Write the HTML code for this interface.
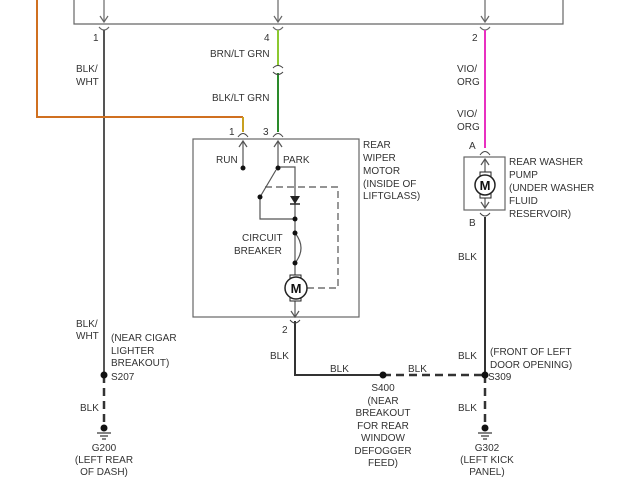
<!DOCTYPE html>
<html><head><style>body{margin:0;background:#fff}svg{display:block}text{font-family:"Liberation Sans",Arial,sans-serif;font-size:10px;fill:#333}</style></head><body>
<svg width="640" height="480" viewBox="0 0 640 480" xmlns="http://www.w3.org/2000/svg">
<g fill="none" stroke="#666" stroke-width="1.2">
<polyline points="74,0 74,24 563,24 563,0"/>
<line x1="104" y1="0" x2="104" y2="22"/><polyline points="100,16 104,22 108,16"/>
<line x1="278" y1="0" x2="278" y2="22"/><polyline points="274,16 278,22 282,16"/>
<line x1="485" y1="0" x2="485" y2="22"/><polyline points="481,16 485,22 489,16"/>
<path d="M99,27 Q104,33 109,27"/><path d="M273,27 Q278,33 283,27"/><path d="M480,27 Q485,33 490,27"/>
<rect x="193" y="139" width="166" height="178"/>
<rect x="464" y="157" width="41" height="53"/>
</g>
<line x1="104" y1="30" x2="104" y2="375" stroke="#555" stroke-width="2"/>
<line x1="104" y1="375" x2="104" y2="425" stroke="#333" stroke-width="2.5" stroke-dasharray="8,5"/>
<polyline points="37,0 37,117 243,117" fill="none" stroke="#d07020" stroke-width="2"/>
<line x1="243" y1="117" x2="243" y2="132" stroke="#c8a020" stroke-width="2"/>
<line x1="278" y1="30" x2="278" y2="66" stroke="#8cc830" stroke-width="2"/>
<line x1="278" y1="73" x2="278" y2="132" stroke="#2a8a2a" stroke-width="2"/>
<path d="M273,68 Q278,63 283,68 M273,72 Q278,77 283,72" fill="none" stroke="#444" stroke-width="1"/>
<line x1="485" y1="30" x2="485" y2="148" stroke="#e830c0" stroke-width="2"/>
<line x1="485" y1="217" x2="485" y2="375" stroke="#333" stroke-width="2"/>
<line x1="485" y1="375" x2="485" y2="425" stroke="#333" stroke-width="2.5" stroke-dasharray="8,5"/>
<polyline points="295,321 295,375 383,375" fill="none" stroke="#333" stroke-width="2"/>
<line x1="383" y1="375" x2="485" y2="375" stroke="#333" stroke-width="2.5" stroke-dasharray="8,5"/>
<g fill="none" stroke="#444" stroke-width="1">
<path d="M238,137 Q243,130 248,137"/><path d="M273,137 Q278,130 283,137"/>
<path d="M290,320 Q295,326 300,320"/>
<path d="M480,155 Q485,148 490,155"/><path d="M480,213 Q485,219 490,213"/>
</g>
<g fill="none" stroke="#555" stroke-width="1.2">
<line x1="243" y1="141" x2="243" y2="168"/><polyline points="239,147 243,141 247,147"/>
<line x1="278" y1="141" x2="278" y2="167"/><polyline points="274,147 278,141 282,147"/>
<polyline points="278,167 295,167 295,288"/>
<line x1="260" y1="197" x2="276" y2="170"/>
<polyline points="260,197 260,219 295,219"/>
<path d="M295,233 Q307,248 295,263"/>
<line x1="295" y1="299" x2="295" y2="317"/><polyline points="291,311 295,317 299,311"/>
<line x1="485" y1="159" x2="485" y2="208"/><polyline points="481,165 485,159 489,165"/><polyline points="481,202 485,208 489,202"/>
</g>
<polyline points="265,187 338,187 338,288 307,288" fill="none" stroke="#555" stroke-width="1.2" stroke-dasharray="7,4"/>
<polygon points="290,196 300,196 295,204" fill="#222"/><line x1="290" y1="204" x2="300" y2="204" stroke="#222" stroke-width="1.5"/>
<g fill="#111">
<circle cx="243" cy="168" r="2.5"/><circle cx="278" cy="168" r="2.5"/><circle cx="260" cy="197" r="2.5"/>
<circle cx="295" cy="219" r="2.5"/><circle cx="295" cy="233" r="2.5"/><circle cx="295" cy="263" r="2.5"/>
<circle cx="104" cy="375" r="3.5"/><circle cx="383" cy="375" r="3.5"/><circle cx="485" cy="375" r="3.5"/>
<circle cx="104" cy="428" r="3.5"/><circle cx="485" cy="428" r="3.5"/>
</g>
<g stroke="#333" stroke-width="1.2">
<line x1="97" y1="433" x2="111" y2="433"/><line x1="100" y1="436" x2="108" y2="436"/><line x1="102" y1="439" x2="106" y2="439"/>
<line x1="478" y1="433" x2="492" y2="433"/><line x1="481" y1="436" x2="489" y2="436"/><line x1="483" y1="439" x2="487" y2="439"/>
</g>
<g fill="#fff" stroke="#222" stroke-width="1.5">
<rect x="290" y="275" width="11" height="26" stroke-width="1"/>
<circle cx="296" cy="288" r="11"/>
<rect x="480" y="172" width="11" height="26" stroke-width="1"/>
<circle cx="485" cy="185" r="10"/>
</g>
<text x="296" y="293" text-anchor="middle" style="font-size:13px;font-weight:bold;fill:#111">M</text>
<text x="485" y="190" text-anchor="middle" style="font-size:13px;font-weight:bold;fill:#111">M</text>
<text x="93" y="41">1</text><text x="264" y="41">4</text><text x="472" y="41">2</text>
<text x="210" y="57">BRN/LT GRN</text><text x="212" y="101">BLK/LT GRN</text>
<text x="76" y="72">BLK/</text><text x="76" y="85">WHT</text>
<text x="457" y="72">VIO/</text><text x="457" y="85">ORG</text>
<text x="457" y="117">VIO/</text><text x="457" y="130">ORG</text>
<text x="229" y="135">1</text><text x="263" y="135">3</text>
<text x="216" y="163">RUN</text><text x="283" y="163">PARK</text>
<text x="242" y="241">CIRCUIT</text><text x="234" y="254">BREAKER</text>
<text x="363" y="148">REAR</text><text x="363" y="161">WIPER</text><text x="363" y="174">MOTOR</text><text x="363" y="187">(INSIDE OF</text><text x="363" y="199">LIFTGLASS)</text>
<text x="469" y="149">A</text><text x="469" y="226">B</text>
<text x="509" y="165">REAR WASHER</text><text x="509" y="178">PUMP</text><text x="509" y="191">(UNDER WASHER</text><text x="509" y="204">FLUID</text><text x="509" y="217">RESERVOIR)</text>
<text x="458" y="260">BLK</text>
<text x="282" y="333">2</text>
<text x="76" y="327">BLK/</text><text x="76" y="339">WHT</text>
<text x="111" y="341">(NEAR CIGAR</text><text x="111" y="354">LIGHTER</text><text x="111" y="366">BREAKOUT)</text>
<text x="111" y="380">S207</text>
<text x="80" y="411">BLK</text>
<text x="104" y="451" text-anchor="middle">G200</text><text x="104" y="463" text-anchor="middle">(LEFT REAR</text><text x="104" y="475" text-anchor="middle">OF DASH)</text>
<text x="270" y="359">BLK</text><text x="330" y="372">BLK</text><text x="408" y="372">BLK</text>
<text x="458" y="359">BLK</text>
<text x="490" y="355">(FRONT OF LEFT</text><text x="490" y="368">DOOR OPENING)</text>
<text x="488" y="380">S309</text>
<text x="458" y="411">BLK</text>
<g text-anchor="middle">
<text x="383" y="391">S400</text><text x="383" y="404">(NEAR</text><text x="383" y="416">BREAKOUT</text><text x="383" y="429">FOR REAR</text><text x="383" y="441">WINDOW</text><text x="383" y="454">DEFOGGER</text><text x="383" y="466">FEED)</text>
<text x="487" y="451">G302</text><text x="487" y="463">(LEFT KICK</text><text x="487" y="475">PANEL)</text>
</g>
</svg>
</body></html>
